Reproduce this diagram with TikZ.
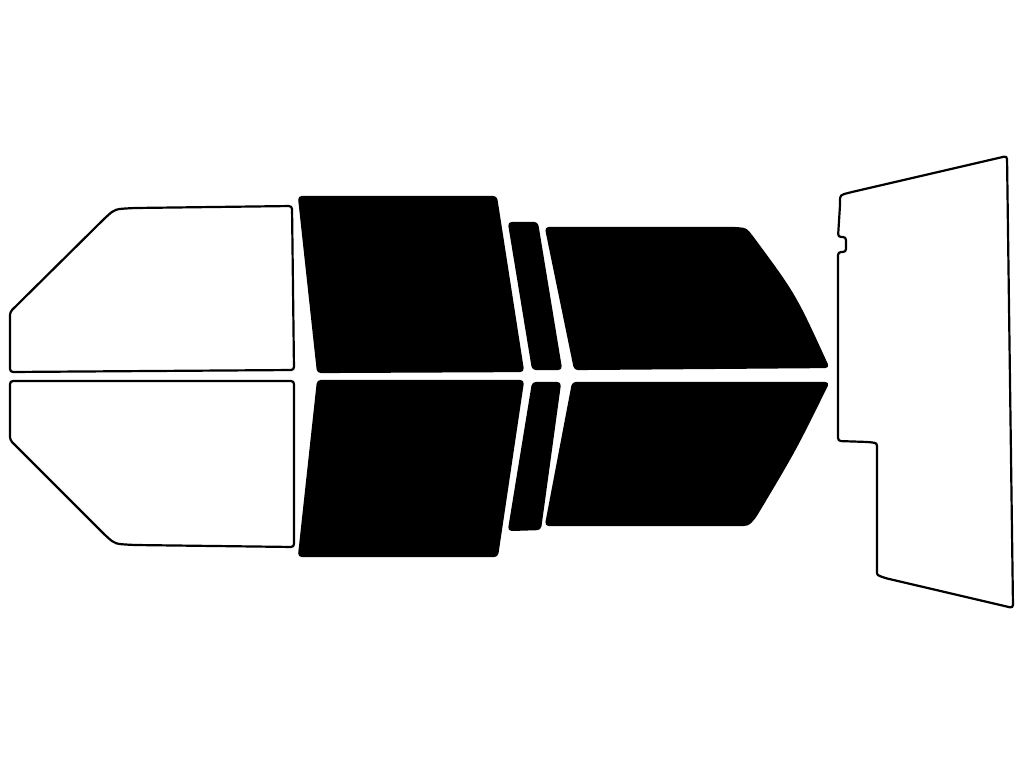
\documentclass[tikz,border=0pt]{standalone}
\begin{document}
\begin{tikzpicture}[x=1pt,y=-1pt,
    clearglass/.style={draw=black, line width=2.2pt, fill=white, rounded corners=3pt},
    tintglass/.style={draw=black, line width=2.2pt, fill=black, rounded corners=3pt}
]
    \useasboundingbox (0,0) rectangle (1024,768);

    % Front windows (clear)
    \draw[clearglass] (10,312) -- (105,218) .. controls (115,209) .. (135,208) -- (292,206) -- (294,370) -- (10,372) -- cycle;
    \draw[clearglass] (10,381) -- (294,381) -- (294,547) -- (135,545) .. controls (115,544) .. (105,535) -- (10,440) -- cycle;

    % Rear door windows (tinted)
    \draw[tintglass] (299,197) -- (496,197) -- (523,371) -- (318,372) -- cycle;
    \draw[tintglass] (318,381) -- (523,381) -- (497,556) -- (299,556) -- cycle;

    % Quarter windows (tinted)
    \draw[tintglass] (509,223) -- (537,223) -- (561,369) -- (533,369) -- cycle;
    \draw[tintglass] (533,383) -- (560,383) -- (540,529) -- (509,530) -- cycle;

    % Rear side windows (tinted)
    \draw[tintglass] (546,228) -- (735,228) .. controls (746,229) .. (753,238) .. controls (795,295) .. (828,367) -- (575,369) -- cycle;
    \draw[tintglass] (573,383) -- (828,383) .. controls (795,450) .. (755,517) .. controls (748,525) .. (735,525) -- (546,525) -- cycle;

    % Back window (clear)
    \draw[clearglass] (840,205) .. controls (840,195) .. (852,192) -- (1007,156) -- (1013,608) -- (885,578) .. controls (877,575) .. (877,568) -- (877,452) .. controls (877,443) .. (868,442) -- (838,441) -- (838,252) -- (846,252) -- (846,237) -- (838,237) -- cycle;
\end{tikzpicture}
\end{document}
